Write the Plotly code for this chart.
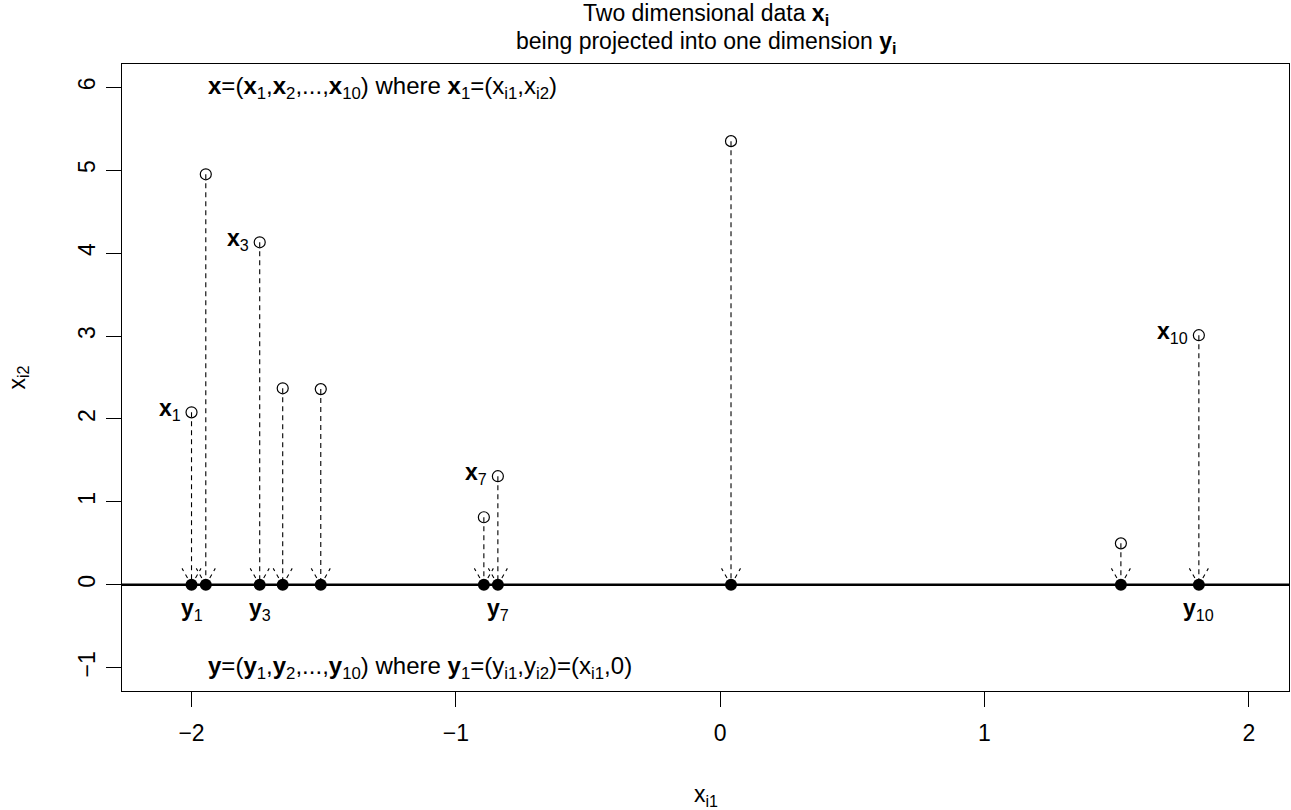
import math
import plotly.graph_objects as go

# ---- data ----
x_i1 = [-2.00, -1.946, -1.742, -1.655, -1.511, -0.894, -0.841, 0.041, 1.516, 1.811]
x_i2 = [2.08, 4.95, 4.13, 2.37, 2.36, 0.815, 1.31, 5.35, 0.50, 3.01]
labelled = [1, 3, 7, 10]          # 1-based indices that carry x_i / y_i labels
x_ticks = [-2, -1, 0, 1, 2]
y_ticks = [-1, 0, 1, 2, 3, 4, 5, 6]
x_range = [-2.263, 2.152]
y_range = [-1.28, 6.28]

FONT = "Liberation Sans, Arial, Helvetica, sans-serif"
FS = 23
FS_TXT = 24
W, H = 1291, 810
ML, MR, MT, MB = 122, 2, 64, 119
px_per_x = (W - ML - MR) / (x_range[1] - x_range[0])
px_per_y = (H - MT - MB) / (y_range[1] - y_range[0])

fig = go.Figure()

# dashed shafts (point -> projection)
sx, sy = [], []
for xv, yv in zip(x_i1, x_i2):
    sx += [xv, xv, None]
    sy += [yv, 0, None]
fig.add_trace(go.Scatter(x=sx, y=sy, mode="lines",
                         line=dict(color="black", width=1.1, dash="5px,4px"),
                         hoverinfo="skip", showlegend=False))

# arrow-head wings (drawn from the tip outwards, dashed like R)
wing_len, ang = 19.0, 30.0
dxw = wing_len * math.sin(math.radians(ang)) / px_per_x
dyw = wing_len * math.cos(math.radians(ang)) / px_per_y
wx, wy = [], []
for xv in x_i1:
    for s in (-1, 1):
        wx += [xv, xv + s * dxw, None]
        wy += [0, dyw, None]
fig.add_trace(go.Scatter(x=wx, y=wy, mode="lines",
                         line=dict(color="black", width=1.1, dash="4px,4px"),
                         hoverinfo="skip", showlegend=False))

# open circles at the 2D points
fig.add_trace(go.Scatter(x=x_i1, y=x_i2, mode="markers",
                         marker=dict(symbol="circle-open", size=11,
                                     color="black", line=dict(width=1.2)),
                         showlegend=False))
# filled projected points
fig.add_trace(go.Scatter(x=x_i1, y=[0] * len(x_i1), mode="markers",
                         marker=dict(symbol="circle", size=12, color="black"),
                         showlegend=False))

# horizontal projection line y = 0
fig.add_shape(type="line", xref="paper", yref="y", x0=0, x1=1, y0=0, y1=0,
              line=dict(color="black", width=2.5), layer="below")

# point labels
for i in labelled:
    xv, yv = x_i1[i - 1], x_i2[i - 1]
    fig.add_annotation(x=xv, y=yv, text=f"<b>x</b><sub>{i}</sub>", showarrow=False,
                       xanchor="right", yanchor="middle", xshift=-9, yshift=3,
                       font=dict(family=FONT, size=FS, color="black"))
    fig.add_annotation(x=xv, y=0, text=f"<b>y</b><sub>{i}</sub>", showarrow=False,
                       xanchor="center", yanchor="top", yshift=-8,
                       font=dict(family=FONT, size=FS, color="black"))

# in-plot descriptive texts
fig.add_annotation(x=-1.946, y=6, xanchor="left", yanchor="middle", showarrow=False,
                   text="<b>x</b>=(<b>x</b><sub>1</sub>,<b>x</b><sub>2</sub>,...,<b>x</b><sub>10</sub>)"
                        " where <b>x</b><sub>1</sub>=(x<sub>i1</sub>,x<sub>i2</sub>)",
                   font=dict(family=FONT, size=FS_TXT, color="black"))
fig.add_annotation(x=-1.946, y=-1, xanchor="left", yanchor="middle", showarrow=False,
                   text="<b>y</b>=(<b>y</b><sub>1</sub>,<b>y</b><sub>2</sub>,...,<b>y</b><sub>10</sub>)"
                        " where <b>y</b><sub>1</sub>=(y<sub>i1</sub>,y<sub>i2</sub>)=(x<sub>i1</sub>,0)",
                   font=dict(family=FONT, size=FS_TXT, color="black"))

# title (two lines)
fig.add_annotation(xref="paper", yref="paper", x=0.5, y=1, yshift=50, showarrow=False,
                   text="Two dimensional data <b>x</b><sub><b>i</b></sub>",
                   xanchor="center", yanchor="middle",
                   font=dict(family=FONT, size=FS, color="black"))
fig.add_annotation(xref="paper", yref="paper", x=0.5, y=1, yshift=22, showarrow=False,
                   text="being projected into one dimension <b>y</b><sub><b>i</b></sub>",
                   xanchor="center", yanchor="middle",
                   font=dict(family=FONT, size=FS, color="black"))

# axis titles
fig.add_annotation(xref="paper", yref="paper", x=0.5, y=0, yshift=-104, showarrow=False,
                   text="x<sub>i1</sub>", xanchor="center", yanchor="middle",
                   font=dict(family=FONT, size=FS, color="black"))
fig.add_annotation(xref="paper", yref="paper", x=0, y=0.5, xshift=-104, showarrow=False,
                   text="x<sub>i2</sub>", textangle=-90, xanchor="center", yanchor="middle",
                   font=dict(family=FONT, size=FS, color="black"))

axis_common = dict(showline=True, mirror=True, linecolor="black", linewidth=1,
                   ticks="outside", ticklen=15, tickwidth=1, tickcolor="black",
                   showgrid=False, zeroline=False,
                   tickfont=dict(family=FONT, size=FS, color="black"))
fig.update_xaxes(range=x_range, tickvals=x_ticks, ticklabelstandoff=6, **axis_common)
fig.update_yaxes(range=y_range, tickvals=y_ticks, tickangle=-90, ticklabelstandoff=2,
                 **axis_common)

fig.update_layout(width=W, height=H, margin=dict(l=ML, r=MR, t=MT, b=MB),
                  plot_bgcolor="white", paper_bgcolor="white",
                  font=dict(family=FONT, color="black"))

fig.write_html("out.html")
